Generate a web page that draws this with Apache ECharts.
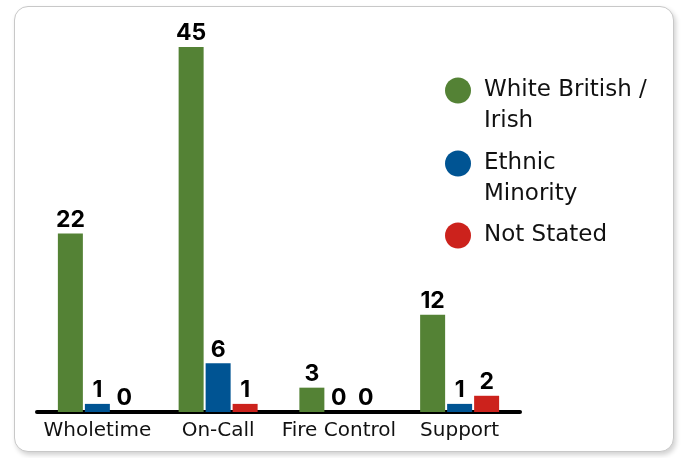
<!DOCTYPE html>
<html>
<head>
<meta charset="utf-8">
<script src="https://cdn.jsdelivr.net/npm/echarts@6/dist/echarts.min.js"></script>
<style>
html,body{margin:0;padding:0;background:#fff;}
#card{position:absolute;left:14px;top:6px;width:658px;height:444px;border:1px solid #c8c8c8;border-radius:14px;box-shadow:2px 3px 5px rgba(0,0,0,0.18);background:#fff;}
#chart{position:absolute;left:0;top:0;width:681px;height:458px;}
</style>
</head>
<body>
<div id="card"></div>
<div id="chart"></div>
<script>
const categories = ['Wholetime', 'On-Call', 'Fire Control', 'Support'];
const seriesNames = ['White British / Irish', 'Ethnic Minority', 'Not Stated'];
const whiteBritishIrish = [22, 45, 3, 12];
const ethnicMinority = [1, 6, 0, 1];
const notStated = [0, 1, 0, 2];
const colors = ['#548235', '#005493', '#cc221c'];
const legendLabels = ['\nWhite British /\nIrish', '\nEthnic\nMinority', 'Not Stated'];
const legendTops = [44, 117, 220];

const labelFont = 'Inter, "Noto Sans", sans-serif';
const textFont = '"DejaVu Sans", sans-serif';
const chart = echarts.init(document.getElementById('chart'));
const values = [whiteBritishIrish, ethnicMinority, notStated];

const series = seriesNames.map((name, i) => ({
  name: name,
  type: 'bar',
  data: values[i],
  barWidth: 25,
  barGap: '8%',
  itemStyle: { color: colors[i] },
  label: {
    show: true,
    position: 'top',
    distance: 2,
    color: '#000',
    fontFamily: labelFont,
    fontWeight: 'bold',
    fontSize: 23
  }
}));

const legends = seriesNames.map((name, i) => ({
  data: [name],
  left: 445,
  top: legendTops[i],
  padding: 0,
  icon: 'circle',
  itemWidth: 26,
  itemHeight: 26,
  selectedMode: false,
  formatter: () => legendLabels[i],
  textStyle: {
    fontFamily: textFont,
    fontSize: 23,
    lineHeight: 31,
    color: '#111',
    padding: [0, 0, 0, 8]
  }
}));

chart.setOption({
  animation: false,
  color: colors,
  legend: legends,
  grid: { left: 37, right: 161, top: 47, bottom: 46 },
  xAxis: {
    type: 'category',
    data: categories,
    axisLine: { show: true, lineStyle: { color: '#000', width: 4 } },
    axisTick: { show: false },
    axisLabel: { color: '#111', fontFamily: textFont, fontSize: 20, margin: 9, interval: 0 }
  },
  yAxis: {
    type: 'value',
    min: 0,
    max: 45,
    show: false,
    splitLine: { show: false }
  },
  series: series
});
</script>
</body>
</html>
